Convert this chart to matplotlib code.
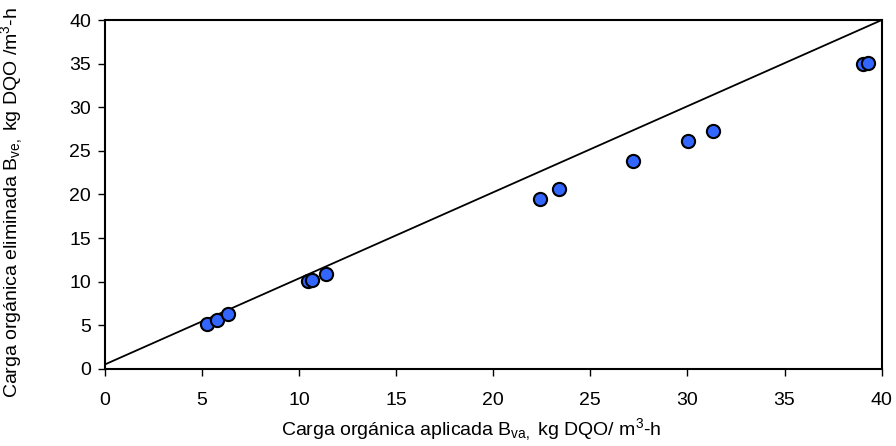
import matplotlib
matplotlib.use("Agg")
import matplotlib.pyplot as plt

plt.rcParams['font.family'] = ['Liberation Sans', 'DejaVu Sans']
plt.rcParams['mathtext.fontset'] = 'custom'
plt.rcParams['mathtext.rm'] = 'Liberation Sans'
plt.rcParams['mathtext.it'] = 'Liberation Sans'

b_va = [5.25, 5.8, 6.35, 10.45, 10.65, 11.4, 22.4, 23.4, 27.2, 30.05, 31.3, 39.05, 39.3]
b_ve = [5.15, 5.65, 6.25, 10.05, 10.2, 10.9, 19.5, 20.65, 23.8, 26.1, 27.3, 35.0, 35.1]
line_x = [0, 40]
line_y = [0.5, 40]

fig = plt.figure(figsize=(8.96, 4.46), dpi=100)
ax = fig.add_axes([0.117, 0.173, 0.867, 0.782])
ax.plot(line_x, line_y, color='black', lw=1.3, zorder=2)
ax.plot(b_va, b_ve, 'o', ms=9.5, mfc='#3366FF', mec='black', mew=1.5, zorder=3, clip_on=False)
ax.set_xlim(0, 40)
ax.set_ylim(0, 40)
ax.set_xticks(range(0, 41, 5))
ax.set_yticks(range(0, 41, 5))
for s in ax.spines.values():
    s.set_linewidth(1.5)
ax.tick_params(direction='out', length=5, width=1, labelsize=14)
ax.tick_params(axis='x', pad=12)
ax.tick_params(axis='y', pad=5)
ax.set_xlabel('Carga orgánica aplicada B$_{\\mathrm{va,}}$ kg DQO/ m$^{3}$-h', fontsize=14)
ax.set_ylabel('Carga orgánica eliminada B$_{\\mathrm{ve,}}$ kg DQO /m$^{3}$-h', fontsize=14)
ax.xaxis.label.set_va('center')
ax.yaxis.label.set_va('center')
ax.xaxis.set_label_coords(0.471, -0.175)
ax.yaxis.set_label_coords(-0.1195, 0.476)
fig.savefig('out.png', dpi=100)
